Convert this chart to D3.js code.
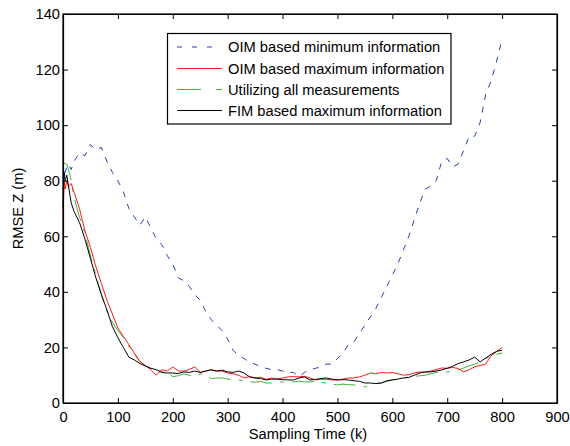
<!DOCTYPE html>
<html>
<head>
<meta charset="utf-8">
<script src="https://cdn.jsdelivr.net/npm/d3@7"></script>
<style>
  body { margin: 0; background: #fff; }
  text { font-family: "Liberation Sans", Arial, sans-serif; }
</style>
</head>
<body>
<div id="chart"></div>
<script>
// sampling instants (k)
let time = [0, 2, 4, 7, 10, 15, 20];
for (let k = 30; k <= 800; k += 10) time.push(k);

// RMSE Z (m) per series, one value per entry of time
let oimMin = [80, 84, 83, 85, 86, 84, 87,
  90, 89, 93, 91, 92, 87, 83, 80, 76, 70, 67, 64, 67, 63, 59, 57, 53, 50, 45, 44, 42, 39, 37,
  33, 30, 28, 26, 23, 19, 17, 16, 14.5, 14, 13, 12.5, 12, 12, 11.5, 11, 11, 9.5, 11, 12,
  12.5, 13, 14, 14, 16, 18, 21, 22, 25, 28, 31, 34, 38, 42, 46, 50, 55, 60, 66, 72,
  77, 78, 80, 87, 88, 85, 86, 91, 96, 96, 101, 111, 116, 123, 131];
let oimMax = [67, 80, 77, 80, 78, 79, 76,
  70, 62, 56, 49, 43, 37, 32, 27, 24, 21, 18, 15, 13.5, 12, 10, 12, 11.5, 13, 11.5, 11.5, 12, 13, 11,
  11.5, 12, 11.5, 11.5, 10.8, 10.5, 10, 9, 9.5, 9, 9.3, 8.5, 9, 8.6, 9, 9.4, 9.5, 9.4, 9.6, 9,
  8.3, 8.6, 8.5, 8.3, 8.3, 8.6, 9, 9, 9.4, 10, 10.8, 10.5, 11, 10.8, 11, 10.5, 10, 10.2, 10.8, 11.2,
  11, 11.5, 12, 12.6, 12.5, 12.8, 12.4, 11.2, 12, 13, 13.5, 14, 17, 18.5, 20];
let allMeas = [87, 86.5, 86, 86, 84, 80, 74,
  67, 61, 53, 46, 39, 33, 29, 26, 23.5, 20.5, 17.5, 15, 13.3, 12.5, 11.9, 11.5, 11, 9.5, 9.8, 10.5, 10, 9.4, 10.5,
  10.2, 8.8, 9, 9, 8.6, 8.4, 8.3, 8, 7.6, 7.5, 7.8, 7.2, 7.2, 7.4, 7.6, 7.5, 7.6, 7.8, 7.6, 7.6,
  7.8, 7.4, 7.2, 6.8, 6.5, 6.8, 6.6, 6.5, 6.2, 5.8, 6.5, 7, 7.2, 7.8, 8.3, 8.6, 9, 9.4, 9.6, 9.8,
  10, 10.5, 11, 11.2, 11.2, 11.2, 11.9, 12.6, 13.4, 14, 14.8, 16, 16.8, 17.5, 18];
let fimMax = [70, 83, 80, 82, 78, 72, 69,
  65, 59, 52, 45, 39, 33.5, 27.5, 23.5, 20, 16.5, 15.5, 14.2, 13.3, 12.5, 12, 11, 10.8, 10.8, 10.6, 11.2, 11, 11.5, 11,
  11.5, 11.9, 11.5, 11.8, 11.2, 11, 11.5, 10.8, 9.4, 9, 8.8, 8.3, 8.6, 8.6, 8.4, 8.3, 8.3, 9, 9.4, 8.3,
  8.5, 8.8, 9, 8.6, 8.3, 8.4, 8.3, 8, 7.8, 7.2, 7.2, 7, 7.2, 8, 8.3, 8.6, 9, 9.2, 10, 10.8,
  11.2, 11.2, 11.5, 11.9, 12.5, 13.2, 14.2, 14.8, 15.5, 16.5, 14.8, 16.2, 17.5, 18.6, 19];

let seriesNames = ["OIM based minimum information", "OIM based maximum information",
  "Utilizing all measurements", "FIM based maximum information"];
let xTicks = [0, 100, 200, 300, 400, 500, 600, 700, 800, 900];
let yTicks = [0, 20, 40, 60, 80, 100, 120, 140];

let width = 570, height = 446;
let plotLeft = 63, plotRight = 557, plotTop = 14, plotBottom = 403;
let fontSize = "14.7px";

let svg = d3.select("#chart").append("svg")
  .attr("width", width).attr("height", height);

let xScale = d3.scaleLinear().domain([0, 900]).range([plotLeft, plotRight]);
let yScale = d3.scaleLinear().domain([0, 140]).range([plotBottom, plotTop]);

// plot box
svg.append("rect")
  .attr("x", plotLeft).attr("y", plotTop)
  .attr("width", plotRight - plotLeft).attr("height", plotBottom - plotTop)
  .style("fill", "white").style("stroke", "black").style("stroke-width", 1.2);

// series
let series = [
  { name: seriesNames[0], values: oimMin, color: "#2343b0", dash: "6,7" },
  { name: seriesNames[1], values: oimMax, color: "#ff1a1a", dash: null },
  { name: seriesNames[2], values: allMeas, color: "#3cb43c", dash: "22,8,4,8" },
  { name: seriesNames[3], values: fimMax, color: "#000000", dash: null }
];

let line = d3.line()
  .x(function(d, i) { return xScale(time[i]); })
  .y(function(d) { return yScale(d); });

// draw order: blue, green, red, black so the red and black stay visible
let drawOrder = [0, 2, 1, 3];
svg.append("g").attr("id", "lines")
  .selectAll("path").data(drawOrder.map(function(i) { return series[i]; })).enter().append("path")
  .attr("d", function(s) { return line(s.values); })
  .style("fill", "none")
  .style("stroke", function(s) { return s.color; })
  .style("stroke-width", 1)
  .style("stroke-dasharray", function(s) { return s.dash; });

// axes, ticks pointing inward like the original
let x_ax = svg.append("g").attr("transform", `translate(0,${plotBottom})`)
  .call(d3.axisBottom(xScale).tickValues(xTicks).tickSizeInner(-5).tickSizeOuter(0).tickPadding(9));
let x_top = svg.append("g").attr("transform", `translate(0,${plotTop})`)
  .call(d3.axisTop(xScale).tickValues(xTicks).tickSizeInner(-5).tickSizeOuter(0).tickFormat(""));
let y_ax = svg.append("g").attr("transform", `translate(${plotLeft},0)`)
  .call(d3.axisLeft(yScale).tickValues(yTicks).tickSizeInner(-5).tickSizeOuter(0).tickPadding(3));
let y_right = svg.append("g").attr("transform", `translate(${plotRight},0)`)
  .call(d3.axisRight(yScale).tickValues(yTicks).tickSizeInner(-5).tickSizeOuter(0).tickFormat(""));

[x_ax, x_top, y_ax, y_right].forEach(function(ax) {
  ax.select(".domain").style("stroke", "black").style("stroke-width", 1.2);
  ax.selectAll(".tick line").style("stroke", "black");
  ax.selectAll(".tick text")
    .style("font-family", "'Liberation Sans', Arial, sans-serif")
    .style("font-size", fontSize).style("fill", "black");
});

// axis titles
svg.append("text")
  .attr("x", (plotLeft + plotRight) / 2 - 2).attr("y", 439)
  .attr("text-anchor", "middle")
  .style("font-size", fontSize)
  .text("Sampling Time (k)");
svg.append("text")
  .attr("transform", `translate(23,${(plotTop + plotBottom) / 2}) rotate(-90)`)
  .attr("text-anchor", "middle")
  .style("font-size", fontSize)
  .text("RMSE Z (m)");

// legend
let legend = svg.append("g").attr("id", "legend");
legend.append("rect")
  .attr("x", 167.5).attr("y", 33.5).attr("width", 283.5).attr("height", 90.5)
  .style("fill", "white").style("stroke", "black").style("stroke-width", 1.2);
let rowY = [47, 68.5, 89.5, 110.5];
let rows = legend.selectAll("g.row").data(series).enter().append("g").attr("class", "row")
  .attr("transform", function(d, i) { return `translate(0,${rowY[i]})`; });
rows.append("line")
  .attr("x1", 177).attr("x2", 222).attr("y1", 0).attr("y2", 0)
  .style("stroke", function(s) { return s.color; })
  .style("stroke-width", 1)
  .style("stroke-dasharray", function(s, i) { return i === 0 ? "5,10" : (i === 2 ? "24,15,6,10" : null); });
rows.append("text")
  .attr("x", 228).attr("y", 5)
  .style("font-size", fontSize)
  .text(function(s) { return s.name; });
</script>
</body>
</html>
